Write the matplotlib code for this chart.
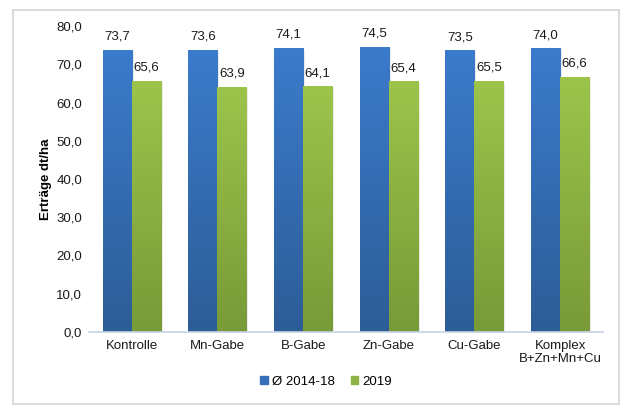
import numpy as np
import matplotlib
matplotlib.use("Agg")
import matplotlib.pyplot as plt
from matplotlib.patches import Rectangle
from matplotlib.colors import LinearSegmentedColormap

categories = ["Kontrolle", "Mn-Gabe", "B-Gabe", "Zn-Gabe", "Cu-Gabe", "Komplex\nB+Zn+Mn+Cu"]
mean_2014_18 = [73.7, 73.6, 74.1, 74.5, 73.5, 74.0]
year_2019 = [65.6, 63.9, 64.1, 65.4, 65.5, 66.6]
series_names = ["Ø 2014-18", "2019"]

plt.rcParams["font.family"] = ["Liberation Sans", "DejaVu Sans"]
FS = 9.5

fig = plt.figure(figsize=(6.21, 4.07), dpi=100)
ax = fig.add_axes([0.1433, 0.1843, 0.8277, 0.7518])

# outer frame of the chart
fig.patches.append(Rectangle((13 / 621, 3 / 407), 606 / 621, 394 / 407, transform=fig.transFigure,
                             fill=False, edgecolor="#d4d4d4", linewidth=1.2))

x = np.arange(len(categories))
w = 0.34
blue_cmap = LinearSegmentedColormap.from_list("b", ["#2d5d97", "#3b7bcb"])
green_cmap = LinearSegmentedColormap.from_list("g", ["#789a38", "#9cc44b"])

grad = np.linspace(0, 1, 100).reshape(-1, 1)
for vals, off, cmap, solid in [(mean_2014_18, -w / 2, blue_cmap, "#3570b8"),
                               (year_2019, w / 2, green_cmap, "#8db443")]:
    bars = ax.bar(x + off, vals, w, color=solid, zorder=2)
    for b, v in zip(bars, vals):
        x0, y0 = b.get_x(), b.get_y()
        bw, bh = b.get_width(), b.get_height()
        # soft shadow on the right
        ax.add_patch(Rectangle((x0 + 0.02, y0), bw, bh - 0.3, color="#000000", alpha=0.08, zorder=1.5, lw=0))
        ax.imshow(grad, extent=(x0, x0 + bw, y0, y0 + bh), origin="lower", cmap=cmap,
                  aspect="auto", zorder=2.1)
        ax.text(x0 + bw / 2, v + 2.0, f"{v:.1f}".replace(".", ","), ha="center", va="bottom",
                fontsize=FS, color="#1a1a1a")

ax.set_xlim(-0.5, len(categories) - 0.5)
ax.set_ylim(0, 80)
ax.set_yticks(np.arange(0, 81, 10))
ax.set_yticklabels([f"{t:.1f}".replace(".", ",") for t in np.arange(0, 81, 10)], fontsize=FS)
ax.set_xticks(x)
ax.set_xticklabels(categories, fontsize=FS, linespacing=1.1)
ax.tick_params(axis="both", length=0, pad=6, colors="#1a1a1a")
ax.tick_params(axis="y", pad=5)
ax.set_ylabel("Erträge dt/ha", fontsize=FS, fontweight="bold", labelpad=3)

for s in ["top", "right", "left"]:
    ax.spines[s].set_visible(False)
ax.spines["bottom"].set_color("#c6d3e4")
ax.spines["bottom"].set_linewidth(1.2)

handles = [Rectangle((0, 0), 1, 1, color="#3570b8"), Rectangle((0, 0), 1, 1, color="#8db443")]
fig.legend(handles, series_names, loc="center", bbox_to_anchor=(0.525, 0.062), ncol=2, frameon=False,
           fontsize=FS, handlelength=0.6, handleheight=0.6, handletextpad=0.3, columnspacing=1.2)

fig.savefig("out.png", dpi=100)
